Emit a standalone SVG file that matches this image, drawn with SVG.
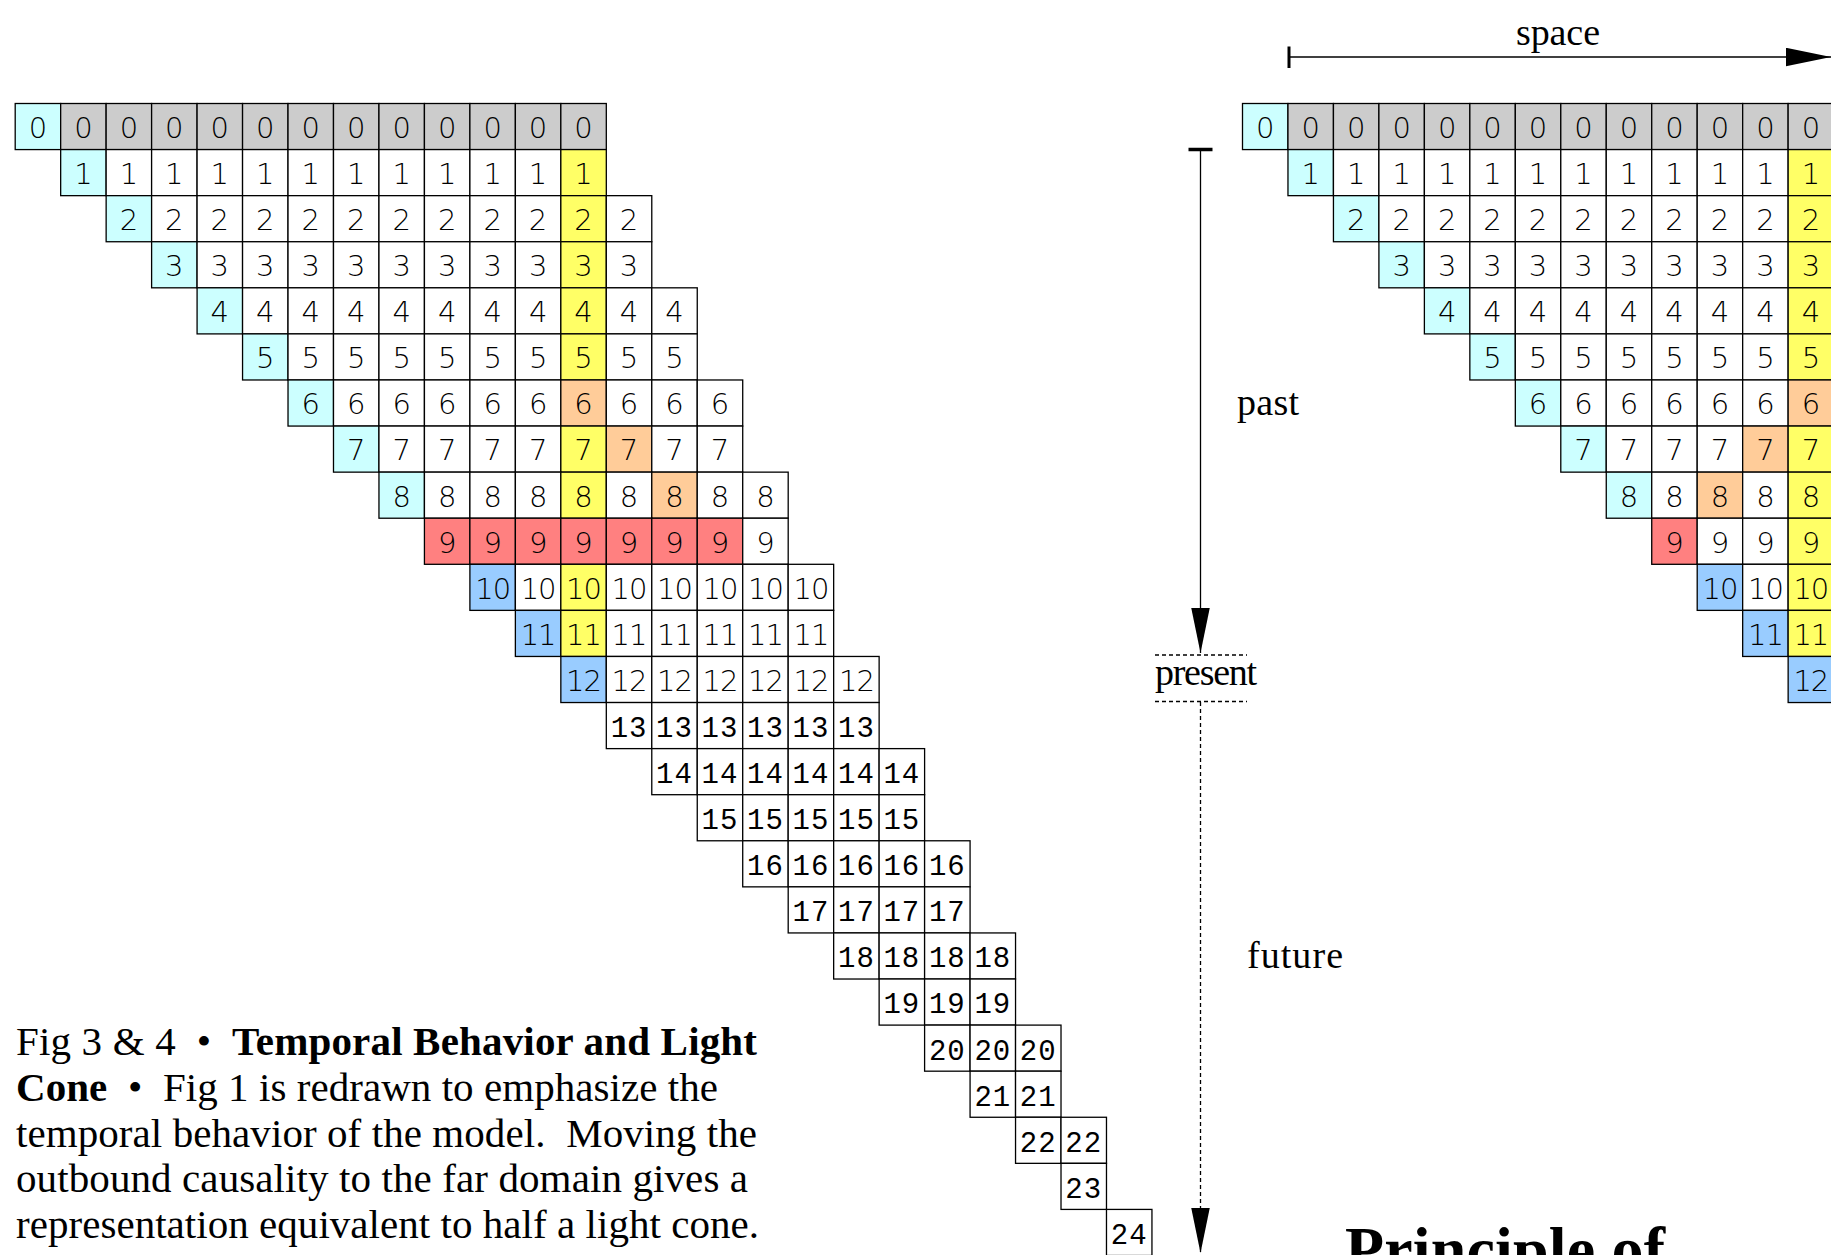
<svg xmlns="http://www.w3.org/2000/svg" width="1831" height="1255" viewBox="0 0 1831 1255">
<style>
.cl{stroke:#000;stroke-width:1.3}
.w{fill:#fff}.g{fill:#ccc}.cy{fill:#cff}.ye{fill:#ff6}.or{fill:#fc9}.rd{fill:#ff8080}.bl{fill:#9cf}
.n text{font-family:"DejaVu Sans",sans-serif;font-weight:200;font-size:29px;text-anchor:middle;fill:#000}
.n2 text{letter-spacing:-1px}
.m text{font-family:"Liberation Mono",monospace;font-size:29px;text-anchor:middle;letter-spacing:1px;fill:#000}
.lab{font-family:"Liberation Serif","Times New Roman",serif;font-size:38px;fill:#000}
.cap{font-family:"Liberation Serif","Times New Roman",serif;font-size:41px;fill:#000}
.b{font-weight:bold}
.ax{stroke:#000;stroke-width:1.3;fill:none}
.dash{stroke-dasharray:4 3}
</style>
<defs>
<rect id="c" width="45.47" height="46.08"/>
<marker id="ah" markerUnits="userSpaceOnUse" markerWidth="46" markerHeight="19" refX="45" refY="9.25" orient="auto"><path d="M0,0 L45,9.25 L0,18.5 Z" fill="#000"/></marker>
</defs>
<rect width="1831" height="1255" fill="#fff"/>

<g id="left-grid">
<g id="L-r0" transform="translate(15.2,103.5)"><g class="cl"><use href="#c" class="cy"/><use href="#c" x="45.47" class="g"/><use href="#c" x="90.94" class="g"/><use href="#c" x="136.41" class="g"/><use href="#c" x="181.88" class="g"/><use href="#c" x="227.35" class="g"/><use href="#c" x="272.82" class="g"/><use href="#c" x="318.29" class="g"/><use href="#c" x="363.76" class="g"/><use href="#c" x="409.23" class="g"/><use href="#c" x="454.7" class="g"/><use href="#c" x="500.17" class="g"/><use href="#c" x="545.64" class="g"/></g><g class="n" transform="translate(0,34.4)"><text x="22.74">0</text><text x="68.21">0</text><text x="113.68">0</text><text x="159.15">0</text><text x="204.62">0</text><text x="250.09">0</text><text x="295.56">0</text><text x="341.03">0</text><text x="386.5">0</text><text x="431.97">0</text><text x="477.44">0</text><text x="522.91">0</text><text x="568.38">0</text></g></g>
<g id="L-r1" transform="translate(60.67,149.58)"><g class="cl"><use href="#c" class="cy"/><use href="#c" x="45.47" class="w"/><use href="#c" x="90.94" class="w"/><use href="#c" x="136.41" class="w"/><use href="#c" x="181.88" class="w"/><use href="#c" x="227.35" class="w"/><use href="#c" x="272.82" class="w"/><use href="#c" x="318.29" class="w"/><use href="#c" x="363.76" class="w"/><use href="#c" x="409.23" class="w"/><use href="#c" x="454.7" class="w"/><use href="#c" x="500.17" class="ye"/></g><g class="n" transform="translate(0,34.4)"><text x="22.74">1</text><text x="68.21">1</text><text x="113.68">1</text><text x="159.15">1</text><text x="204.62">1</text><text x="250.09">1</text><text x="295.56">1</text><text x="341.03">1</text><text x="386.5">1</text><text x="431.97">1</text><text x="477.44">1</text><text x="522.91">1</text></g></g>
<g id="L-r2" transform="translate(106.14,195.66)"><g class="cl"><use href="#c" class="cy"/><use href="#c" x="45.47" class="w"/><use href="#c" x="90.94" class="w"/><use href="#c" x="136.41" class="w"/><use href="#c" x="181.88" class="w"/><use href="#c" x="227.35" class="w"/><use href="#c" x="272.82" class="w"/><use href="#c" x="318.29" class="w"/><use href="#c" x="363.76" class="w"/><use href="#c" x="409.23" class="w"/><use href="#c" x="454.7" class="ye"/><use href="#c" x="500.17" class="w"/></g><g class="n" transform="translate(0,34.4)"><text x="22.74">2</text><text x="68.21">2</text><text x="113.68">2</text><text x="159.15">2</text><text x="204.62">2</text><text x="250.09">2</text><text x="295.56">2</text><text x="341.03">2</text><text x="386.5">2</text><text x="431.97">2</text><text x="477.44">2</text><text x="522.91">2</text></g></g>
<g id="L-r3" transform="translate(151.61,241.74)"><g class="cl"><use href="#c" class="cy"/><use href="#c" x="45.47" class="w"/><use href="#c" x="90.94" class="w"/><use href="#c" x="136.41" class="w"/><use href="#c" x="181.88" class="w"/><use href="#c" x="227.35" class="w"/><use href="#c" x="272.82" class="w"/><use href="#c" x="318.29" class="w"/><use href="#c" x="363.76" class="w"/><use href="#c" x="409.23" class="ye"/><use href="#c" x="454.7" class="w"/></g><g class="n" transform="translate(0,34.4)"><text x="22.74">3</text><text x="68.21">3</text><text x="113.68">3</text><text x="159.15">3</text><text x="204.62">3</text><text x="250.09">3</text><text x="295.56">3</text><text x="341.03">3</text><text x="386.5">3</text><text x="431.97">3</text><text x="477.44">3</text></g></g>
<g id="L-r4" transform="translate(197.08,287.82)"><g class="cl"><use href="#c" class="cy"/><use href="#c" x="45.47" class="w"/><use href="#c" x="90.94" class="w"/><use href="#c" x="136.41" class="w"/><use href="#c" x="181.88" class="w"/><use href="#c" x="227.35" class="w"/><use href="#c" x="272.82" class="w"/><use href="#c" x="318.29" class="w"/><use href="#c" x="363.76" class="ye"/><use href="#c" x="409.23" class="w"/><use href="#c" x="454.7" class="w"/></g><g class="n" transform="translate(0,34.4)"><text x="22.74">4</text><text x="68.21">4</text><text x="113.68">4</text><text x="159.15">4</text><text x="204.62">4</text><text x="250.09">4</text><text x="295.56">4</text><text x="341.03">4</text><text x="386.5">4</text><text x="431.97">4</text><text x="477.44">4</text></g></g>
<g id="L-r5" transform="translate(242.55,333.9)"><g class="cl"><use href="#c" class="cy"/><use href="#c" x="45.47" class="w"/><use href="#c" x="90.94" class="w"/><use href="#c" x="136.41" class="w"/><use href="#c" x="181.88" class="w"/><use href="#c" x="227.35" class="w"/><use href="#c" x="272.82" class="w"/><use href="#c" x="318.29" class="ye"/><use href="#c" x="363.76" class="w"/><use href="#c" x="409.23" class="w"/></g><g class="n" transform="translate(0,34.4)"><text x="22.74">5</text><text x="68.21">5</text><text x="113.68">5</text><text x="159.15">5</text><text x="204.62">5</text><text x="250.09">5</text><text x="295.56">5</text><text x="341.03">5</text><text x="386.5">5</text><text x="431.97">5</text></g></g>
<g id="L-r6" transform="translate(288.02,379.98)"><g class="cl"><use href="#c" class="cy"/><use href="#c" x="45.47" class="w"/><use href="#c" x="90.94" class="w"/><use href="#c" x="136.41" class="w"/><use href="#c" x="181.88" class="w"/><use href="#c" x="227.35" class="w"/><use href="#c" x="272.82" class="or"/><use href="#c" x="318.29" class="w"/><use href="#c" x="363.76" class="w"/><use href="#c" x="409.23" class="w"/></g><g class="n" transform="translate(0,34.4)"><text x="22.74">6</text><text x="68.21">6</text><text x="113.68">6</text><text x="159.15">6</text><text x="204.62">6</text><text x="250.09">6</text><text x="295.56">6</text><text x="341.03">6</text><text x="386.5">6</text><text x="431.97">6</text></g></g>
<g id="L-r7" transform="translate(333.49,426.06)"><g class="cl"><use href="#c" class="cy"/><use href="#c" x="45.47" class="w"/><use href="#c" x="90.94" class="w"/><use href="#c" x="136.41" class="w"/><use href="#c" x="181.88" class="w"/><use href="#c" x="227.35" class="ye"/><use href="#c" x="272.82" class="or"/><use href="#c" x="318.29" class="w"/><use href="#c" x="363.76" class="w"/></g><g class="n" transform="translate(0,34.4)"><text x="22.74">7</text><text x="68.21">7</text><text x="113.68">7</text><text x="159.15">7</text><text x="204.62">7</text><text x="250.09">7</text><text x="295.56">7</text><text x="341.03">7</text><text x="386.5">7</text></g></g>
<g id="L-r8" transform="translate(378.96,472.14)"><g class="cl"><use href="#c" class="cy"/><use href="#c" x="45.47" class="w"/><use href="#c" x="90.94" class="w"/><use href="#c" x="136.41" class="w"/><use href="#c" x="181.88" class="ye"/><use href="#c" x="227.35" class="w"/><use href="#c" x="272.82" class="or"/><use href="#c" x="318.29" class="w"/><use href="#c" x="363.76" class="w"/></g><g class="n" transform="translate(0,34.4)"><text x="22.74">8</text><text x="68.21">8</text><text x="113.68">8</text><text x="159.15">8</text><text x="204.62">8</text><text x="250.09">8</text><text x="295.56">8</text><text x="341.03">8</text><text x="386.5">8</text></g></g>
<g id="L-r9" transform="translate(424.43,518.22)"><g class="cl"><use href="#c" class="rd"/><use href="#c" x="45.47" class="rd"/><use href="#c" x="90.94" class="rd"/><use href="#c" x="136.41" class="rd"/><use href="#c" x="181.88" class="rd"/><use href="#c" x="227.35" class="rd"/><use href="#c" x="272.82" class="rd"/><use href="#c" x="318.29" class="w"/></g><g class="n" transform="translate(0,34.4)"><text x="22.74">9</text><text x="68.21">9</text><text x="113.68">9</text><text x="159.15">9</text><text x="204.62">9</text><text x="250.09">9</text><text x="295.56">9</text><text x="341.03">9</text></g></g>
<g id="L-r10" transform="translate(469.9,564.3)"><g class="cl"><use href="#c" class="bl"/><use href="#c" x="45.47" class="w"/><use href="#c" x="90.94" class="ye"/><use href="#c" x="136.41" class="w"/><use href="#c" x="181.88" class="w"/><use href="#c" x="227.35" class="w"/><use href="#c" x="272.82" class="w"/><use href="#c" x="318.29" class="w"/></g><g class="n n2" transform="translate(0,34.4)"><text x="22.74">10</text><text x="68.21">10</text><text x="113.68">10</text><text x="159.15">10</text><text x="204.62">10</text><text x="250.09">10</text><text x="295.56">10</text><text x="341.03">10</text></g></g>
<g id="L-r11" transform="translate(515.37,610.38)"><g class="cl"><use href="#c" class="bl"/><use href="#c" x="45.47" class="ye"/><use href="#c" x="90.94" class="w"/><use href="#c" x="136.41" class="w"/><use href="#c" x="181.88" class="w"/><use href="#c" x="227.35" class="w"/><use href="#c" x="272.82" class="w"/></g><g class="n n2" transform="translate(0,34.4)"><text x="22.74">11</text><text x="68.21">11</text><text x="113.68">11</text><text x="159.15">11</text><text x="204.62">11</text><text x="250.09">11</text><text x="295.56">11</text></g></g>
<g id="L-r12" transform="translate(560.84,656.46)"><g class="cl"><use href="#c" class="bl"/><use href="#c" x="45.47" class="w"/><use href="#c" x="90.94" class="w"/><use href="#c" x="136.41" class="w"/><use href="#c" x="181.88" class="w"/><use href="#c" x="227.35" class="w"/><use href="#c" x="272.82" class="w"/></g><g class="n n2" transform="translate(0,34.4)"><text x="22.74">12</text><text x="68.21">12</text><text x="113.68">12</text><text x="159.15">12</text><text x="204.62">12</text><text x="250.09">12</text><text x="295.56">12</text></g></g>
<g id="L-r13" transform="translate(606.31,702.54)"><g class="cl"><use href="#c" class="w"/><use href="#c" x="45.47" class="w"/><use href="#c" x="90.94" class="w"/><use href="#c" x="136.41" class="w"/><use href="#c" x="181.88" class="w"/><use href="#c" x="227.35" class="w"/></g><g class="m" transform="translate(0,34.4)"><text x="22.74">13</text><text x="68.21">13</text><text x="113.68">13</text><text x="159.15">13</text><text x="204.62">13</text><text x="250.09">13</text></g></g>
<g id="L-r14" transform="translate(651.78,748.62)"><g class="cl"><use href="#c" class="w"/><use href="#c" x="45.47" class="w"/><use href="#c" x="90.94" class="w"/><use href="#c" x="136.41" class="w"/><use href="#c" x="181.88" class="w"/><use href="#c" x="227.35" class="w"/></g><g class="m" transform="translate(0,34.4)"><text x="22.74">14</text><text x="68.21">14</text><text x="113.68">14</text><text x="159.15">14</text><text x="204.62">14</text><text x="250.09">14</text></g></g>
<g id="L-r15" transform="translate(697.25,794.7)"><g class="cl"><use href="#c" class="w"/><use href="#c" x="45.47" class="w"/><use href="#c" x="90.94" class="w"/><use href="#c" x="136.41" class="w"/><use href="#c" x="181.88" class="w"/></g><g class="m" transform="translate(0,34.4)"><text x="22.74">15</text><text x="68.21">15</text><text x="113.68">15</text><text x="159.15">15</text><text x="204.62">15</text></g></g>
<g id="L-r16" transform="translate(742.72,840.78)"><g class="cl"><use href="#c" class="w"/><use href="#c" x="45.47" class="w"/><use href="#c" x="90.94" class="w"/><use href="#c" x="136.41" class="w"/><use href="#c" x="181.88" class="w"/></g><g class="m" transform="translate(0,34.4)"><text x="22.74">16</text><text x="68.21">16</text><text x="113.68">16</text><text x="159.15">16</text><text x="204.62">16</text></g></g>
<g id="L-r17" transform="translate(788.19,886.86)"><g class="cl"><use href="#c" class="w"/><use href="#c" x="45.47" class="w"/><use href="#c" x="90.94" class="w"/><use href="#c" x="136.41" class="w"/></g><g class="m" transform="translate(0,34.4)"><text x="22.74">17</text><text x="68.21">17</text><text x="113.68">17</text><text x="159.15">17</text></g></g>
<g id="L-r18" transform="translate(833.66,932.94)"><g class="cl"><use href="#c" class="w"/><use href="#c" x="45.47" class="w"/><use href="#c" x="90.94" class="w"/><use href="#c" x="136.41" class="w"/></g><g class="m" transform="translate(0,34.4)"><text x="22.74">18</text><text x="68.21">18</text><text x="113.68">18</text><text x="159.15">18</text></g></g>
<g id="L-r19" transform="translate(879.13,979.02)"><g class="cl"><use href="#c" class="w"/><use href="#c" x="45.47" class="w"/><use href="#c" x="90.94" class="w"/></g><g class="m" transform="translate(0,34.4)"><text x="22.74">19</text><text x="68.21">19</text><text x="113.68">19</text></g></g>
<g id="L-r20" transform="translate(924.6,1025.1)"><g class="cl"><use href="#c" class="w"/><use href="#c" x="45.47" class="w"/><use href="#c" x="90.94" class="w"/></g><g class="m" transform="translate(0,34.4)"><text x="22.74">20</text><text x="68.21">20</text><text x="113.68">20</text></g></g>
<g id="L-r21" transform="translate(970.07,1071.18)"><g class="cl"><use href="#c" class="w"/><use href="#c" x="45.47" class="w"/></g><g class="m" transform="translate(0,34.4)"><text x="22.74">21</text><text x="68.21">21</text></g></g>
<g id="L-r22" transform="translate(1015.54,1117.26)"><g class="cl"><use href="#c" class="w"/><use href="#c" x="45.47" class="w"/></g><g class="m" transform="translate(0,34.4)"><text x="22.74">22</text><text x="68.21">22</text></g></g>
<g id="L-r23" transform="translate(1061.01,1163.34)"><g class="cl"><use href="#c" class="w"/></g><g class="m" transform="translate(0,34.4)"><text x="22.74">23</text></g></g>
<g id="L-r24" transform="translate(1106.48,1209.42)"><g class="cl"><use href="#c" class="w"/></g><g class="m" transform="translate(0,34.4)"><text x="22.74">24</text></g></g>
</g>

<g id="right-grid">
<g id="R-r0" transform="translate(1242.5,103.5)"><g class="cl"><use href="#c" class="cy"/><use href="#c" x="45.47" class="g"/><use href="#c" x="90.94" class="g"/><use href="#c" x="136.41" class="g"/><use href="#c" x="181.88" class="g"/><use href="#c" x="227.35" class="g"/><use href="#c" x="272.82" class="g"/><use href="#c" x="318.29" class="g"/><use href="#c" x="363.76" class="g"/><use href="#c" x="409.23" class="g"/><use href="#c" x="454.7" class="g"/><use href="#c" x="500.17" class="g"/><use href="#c" x="545.64" class="g"/></g><g class="n" transform="translate(0,34.4)"><text x="22.74">0</text><text x="68.21">0</text><text x="113.68">0</text><text x="159.15">0</text><text x="204.62">0</text><text x="250.09">0</text><text x="295.56">0</text><text x="341.03">0</text><text x="386.5">0</text><text x="431.97">0</text><text x="477.44">0</text><text x="522.91">0</text><text x="568.38">0</text></g></g>
<g id="R-r1" transform="translate(1287.97,149.58)"><g class="cl"><use href="#c" class="cy"/><use href="#c" x="45.47" class="w"/><use href="#c" x="90.94" class="w"/><use href="#c" x="136.41" class="w"/><use href="#c" x="181.88" class="w"/><use href="#c" x="227.35" class="w"/><use href="#c" x="272.82" class="w"/><use href="#c" x="318.29" class="w"/><use href="#c" x="363.76" class="w"/><use href="#c" x="409.23" class="w"/><use href="#c" x="454.7" class="w"/><use href="#c" x="500.17" class="ye"/></g><g class="n" transform="translate(0,34.4)"><text x="22.74">1</text><text x="68.21">1</text><text x="113.68">1</text><text x="159.15">1</text><text x="204.62">1</text><text x="250.09">1</text><text x="295.56">1</text><text x="341.03">1</text><text x="386.5">1</text><text x="431.97">1</text><text x="477.44">1</text><text x="522.91">1</text></g></g>
<g id="R-r2" transform="translate(1333.44,195.66)"><g class="cl"><use href="#c" class="cy"/><use href="#c" x="45.47" class="w"/><use href="#c" x="90.94" class="w"/><use href="#c" x="136.41" class="w"/><use href="#c" x="181.88" class="w"/><use href="#c" x="227.35" class="w"/><use href="#c" x="272.82" class="w"/><use href="#c" x="318.29" class="w"/><use href="#c" x="363.76" class="w"/><use href="#c" x="409.23" class="w"/><use href="#c" x="454.7" class="ye"/></g><g class="n" transform="translate(0,34.4)"><text x="22.74">2</text><text x="68.21">2</text><text x="113.68">2</text><text x="159.15">2</text><text x="204.62">2</text><text x="250.09">2</text><text x="295.56">2</text><text x="341.03">2</text><text x="386.5">2</text><text x="431.97">2</text><text x="477.44">2</text></g></g>
<g id="R-r3" transform="translate(1378.91,241.74)"><g class="cl"><use href="#c" class="cy"/><use href="#c" x="45.47" class="w"/><use href="#c" x="90.94" class="w"/><use href="#c" x="136.41" class="w"/><use href="#c" x="181.88" class="w"/><use href="#c" x="227.35" class="w"/><use href="#c" x="272.82" class="w"/><use href="#c" x="318.29" class="w"/><use href="#c" x="363.76" class="w"/><use href="#c" x="409.23" class="ye"/></g><g class="n" transform="translate(0,34.4)"><text x="22.74">3</text><text x="68.21">3</text><text x="113.68">3</text><text x="159.15">3</text><text x="204.62">3</text><text x="250.09">3</text><text x="295.56">3</text><text x="341.03">3</text><text x="386.5">3</text><text x="431.97">3</text></g></g>
<g id="R-r4" transform="translate(1424.38,287.82)"><g class="cl"><use href="#c" class="cy"/><use href="#c" x="45.47" class="w"/><use href="#c" x="90.94" class="w"/><use href="#c" x="136.41" class="w"/><use href="#c" x="181.88" class="w"/><use href="#c" x="227.35" class="w"/><use href="#c" x="272.82" class="w"/><use href="#c" x="318.29" class="w"/><use href="#c" x="363.76" class="ye"/></g><g class="n" transform="translate(0,34.4)"><text x="22.74">4</text><text x="68.21">4</text><text x="113.68">4</text><text x="159.15">4</text><text x="204.62">4</text><text x="250.09">4</text><text x="295.56">4</text><text x="341.03">4</text><text x="386.5">4</text></g></g>
<g id="R-r5" transform="translate(1469.85,333.9)"><g class="cl"><use href="#c" class="cy"/><use href="#c" x="45.47" class="w"/><use href="#c" x="90.94" class="w"/><use href="#c" x="136.41" class="w"/><use href="#c" x="181.88" class="w"/><use href="#c" x="227.35" class="w"/><use href="#c" x="272.82" class="w"/><use href="#c" x="318.29" class="ye"/></g><g class="n" transform="translate(0,34.4)"><text x="22.74">5</text><text x="68.21">5</text><text x="113.68">5</text><text x="159.15">5</text><text x="204.62">5</text><text x="250.09">5</text><text x="295.56">5</text><text x="341.03">5</text></g></g>
<g id="R-r6" transform="translate(1515.32,379.98)"><g class="cl"><use href="#c" class="cy"/><use href="#c" x="45.47" class="w"/><use href="#c" x="90.94" class="w"/><use href="#c" x="136.41" class="w"/><use href="#c" x="181.88" class="w"/><use href="#c" x="227.35" class="w"/><use href="#c" x="272.82" class="or"/></g><g class="n" transform="translate(0,34.4)"><text x="22.74">6</text><text x="68.21">6</text><text x="113.68">6</text><text x="159.15">6</text><text x="204.62">6</text><text x="250.09">6</text><text x="295.56">6</text></g></g>
<g id="R-r7" transform="translate(1560.79,426.06)"><g class="cl"><use href="#c" class="cy"/><use href="#c" x="45.47" class="w"/><use href="#c" x="90.94" class="w"/><use href="#c" x="136.41" class="w"/><use href="#c" x="181.88" class="or"/><use href="#c" x="227.35" class="ye"/></g><g class="n" transform="translate(0,34.4)"><text x="22.74">7</text><text x="68.21">7</text><text x="113.68">7</text><text x="159.15">7</text><text x="204.62">7</text><text x="250.09">7</text></g></g>
<g id="R-r8" transform="translate(1606.26,472.14)"><g class="cl"><use href="#c" class="cy"/><use href="#c" x="45.47" class="w"/><use href="#c" x="90.94" class="or"/><use href="#c" x="136.41" class="w"/><use href="#c" x="181.88" class="ye"/></g><g class="n" transform="translate(0,34.4)"><text x="22.74">8</text><text x="68.21">8</text><text x="113.68">8</text><text x="159.15">8</text><text x="204.62">8</text></g></g>
<g id="R-r9" transform="translate(1651.73,518.22)"><g class="cl"><use href="#c" class="rd"/><use href="#c" x="45.47" class="w"/><use href="#c" x="90.94" class="w"/><use href="#c" x="136.41" class="ye"/></g><g class="n" transform="translate(0,34.4)"><text x="22.74">9</text><text x="68.21">9</text><text x="113.68">9</text><text x="159.15">9</text></g></g>
<g id="R-r10" transform="translate(1697.2,564.3)"><g class="cl"><use href="#c" class="bl"/><use href="#c" x="45.47" class="w"/><use href="#c" x="90.94" class="ye"/></g><g class="n n2" transform="translate(0,34.4)"><text x="22.74">10</text><text x="68.21">10</text><text x="113.68">10</text></g></g>
<g id="R-r11" transform="translate(1742.67,610.38)"><g class="cl"><use href="#c" class="bl"/><use href="#c" x="45.47" class="ye"/></g><g class="n n2" transform="translate(0,34.4)"><text x="22.74">11</text><text x="68.21">11</text></g></g>
<g id="R-r12" transform="translate(1788.14,656.46)"><g class="cl"><use href="#c" class="bl"/></g><g class="n n2" transform="translate(0,34.4)"><text x="22.74">12</text></g></g>
</g>

<g id="connectors">
<g id="space-axis">
<line class="ax" x1="1289" y1="57" x2="1831" y2="57" marker-end="url(#ah)"/>
<line x1="1289" y1="46.5" x2="1289" y2="68" stroke="#000" stroke-width="3"/>
</g>
<g id="time-axis">
<line x1="1188.5" y1="149.5" x2="1212.5" y2="149.5" stroke="#000" stroke-width="3.5"/>
<line class="ax" x1="1200.5" y1="151" x2="1200.5" y2="653" marker-end="url(#ah)"/>
<line class="ax dash" x1="1155" y1="655" x2="1247" y2="655"/>
<line class="ax dash" x1="1155" y1="701.5" x2="1247" y2="701.5"/>
<line class="ax dash" x1="1200.5" y1="702" x2="1200.5" y2="1253" marker-end="url(#ah)"/>
</g>
</g>

<g id="labels">
<text class="lab" x="1516" y="45" textLength="84">space</text>
<text class="lab" x="1237" y="415" textLength="62">past</text>
<text class="lab" x="1155" y="685" textLength="102">present</text>
<text class="lab" x="1247" y="968" textLength="96">future</text>
<text class="cap b" x="1345" y="1271" style="font-size:64px" textLength="320">Principle of</text>
</g>

<g id="caption" class="cap">
<text x="16" y="1055" textLength="741" xml:space="preserve">Fig 3 &amp; 4  •  <tspan class="b">Temporal Behavior and Light</tspan></text>
<text x="16" y="1100.75" textLength="702" xml:space="preserve"><tspan class="b">Cone</tspan>  •  Fig 1 is redrawn to emphasize the</text>
<text x="16" y="1146.5" textLength="741" xml:space="preserve">temporal behavior of the model.  Moving the</text>
<text x="16" y="1192.25" textLength="732">outbound causality to the far domain gives a</text>
<text x="16" y="1238" textLength="743">representation equivalent to half a light cone.</text>
</g>
</svg>
